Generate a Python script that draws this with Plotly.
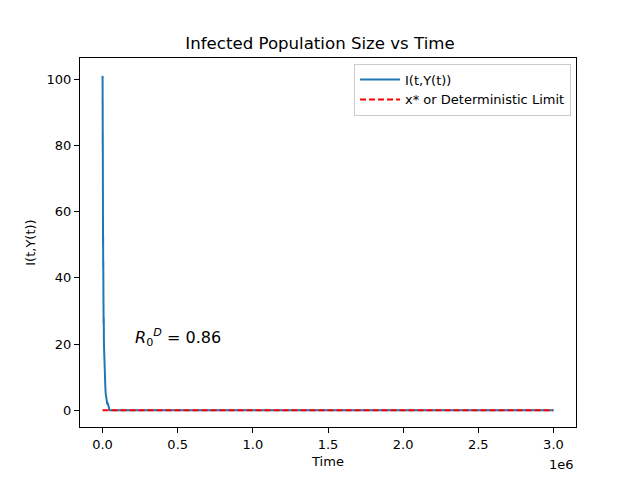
import plotly.graph_objects as go

# Stochastic trajectory I(t, Y(t))
times = [0, 200, 400, 600, 800, 1000, 1200, 1500, 1800, 2100, 2500, 2900, 3300,
         3800, 4300, 4900, 5500, 6200, 7000, 8000, 9000, 10000, 11500, 13000,
         14500, 16500, 18500, 21000, 24000, 27000, 31000, 35000, 40000, 47000,
         3000000]
infected = [100, 101, 96, 100, 88, 93, 80, 84, 70, 73, 58, 62, 50, 53, 43, 45, 37,
            33, 26, 28, 21, 19, 15, 13, 10, 9, 7, 5, 4, 3, 2, 2, 1, 0, 0]

# Deterministic limit x*
det_times = [0, 3000000]
det_values = [0, 0]

x_tick_vals = [0, 500000, 1000000, 1500000, 2000000, 2500000, 3000000]
x_tick_text = ["0.0", "0.5", "1.0", "1.5", "2.0", "2.5", "3.0"]
y_tick_vals = [0, 20, 40, 60, 80, 100]

font = "DejaVu Sans, Liberation Sans, sans-serif"

fig = go.Figure()
fig.add_trace(go.Scatter(x=times, y=infected, mode="lines", name="I(t,Y(t))",
                         line=dict(color="#1f77b4", width=2)))
fig.add_trace(go.Scatter(x=det_times, y=det_values, mode="lines",
                         name="x* or Deterministic Limit",
                         line=dict(color="red", width=2, dash="6px,3px")))

axis_common = dict(showline=True, linecolor="black", linewidth=1, mirror=True,
                   ticks="outside", ticklen=5, tickwidth=1, tickcolor="black",
                   showgrid=False, zeroline=False,
                   tickfont=dict(family=font, size=13, color="black"))

fig.update_layout(
    width=640, height=480,
    margin=dict(l=80, r=64, t=58, b=53),
    plot_bgcolor="white", paper_bgcolor="white",
    font=dict(family=font, color="black"),
    title=dict(text="Infected Population Size vs Time", x=0.5, xanchor="center",
               y=1 - 43 / 480, yanchor="middle",
               font=dict(family=font, size=16.6, color="black")),
    xaxis=dict(range=[-150000, 3150000], tickvals=x_tick_vals, ticktext=x_tick_text,
               title=dict(text="Time", font=dict(family=font, size=13), standoff=6),
               **axis_common),
    yaxis=dict(range=[-5.07, 106.4], tickvals=y_tick_vals,
               title=dict(text="I(t,Y(t))", font=dict(family=font, size=13), standoff=8),
               **axis_common),
    legend=dict(x=0.99, y=0.985, xanchor="right", yanchor="top",
                bgcolor="rgba(255,255,255,0.8)", bordercolor="#cccccc", borderwidth=1,
                font=dict(family=font, size=13, color="black"),
                tracegroupgap=0, itemwidth=40),
    showlegend=True,
)

fig.add_annotation(x=200000, y=20, xref="x", yref="y", yshift=-7,
                   text="<i>R</i><sub>0</sub><sup><i>D</i></sup> = 0.86",
                   showarrow=False, xanchor="left", yanchor="bottom",
                   font=dict(family=font, size=16, color="black"))

fig.add_annotation(x=1, y=0, xref="paper", yref="paper", yshift=-28,
                   text="1e6", showarrow=False, xanchor="right", yanchor="top",
                   font=dict(family=font, size=13, color="black"))

fig.write_html("out.html", config={"displayModeBar": False},
               post_script="document.body.style.margin='0';")
